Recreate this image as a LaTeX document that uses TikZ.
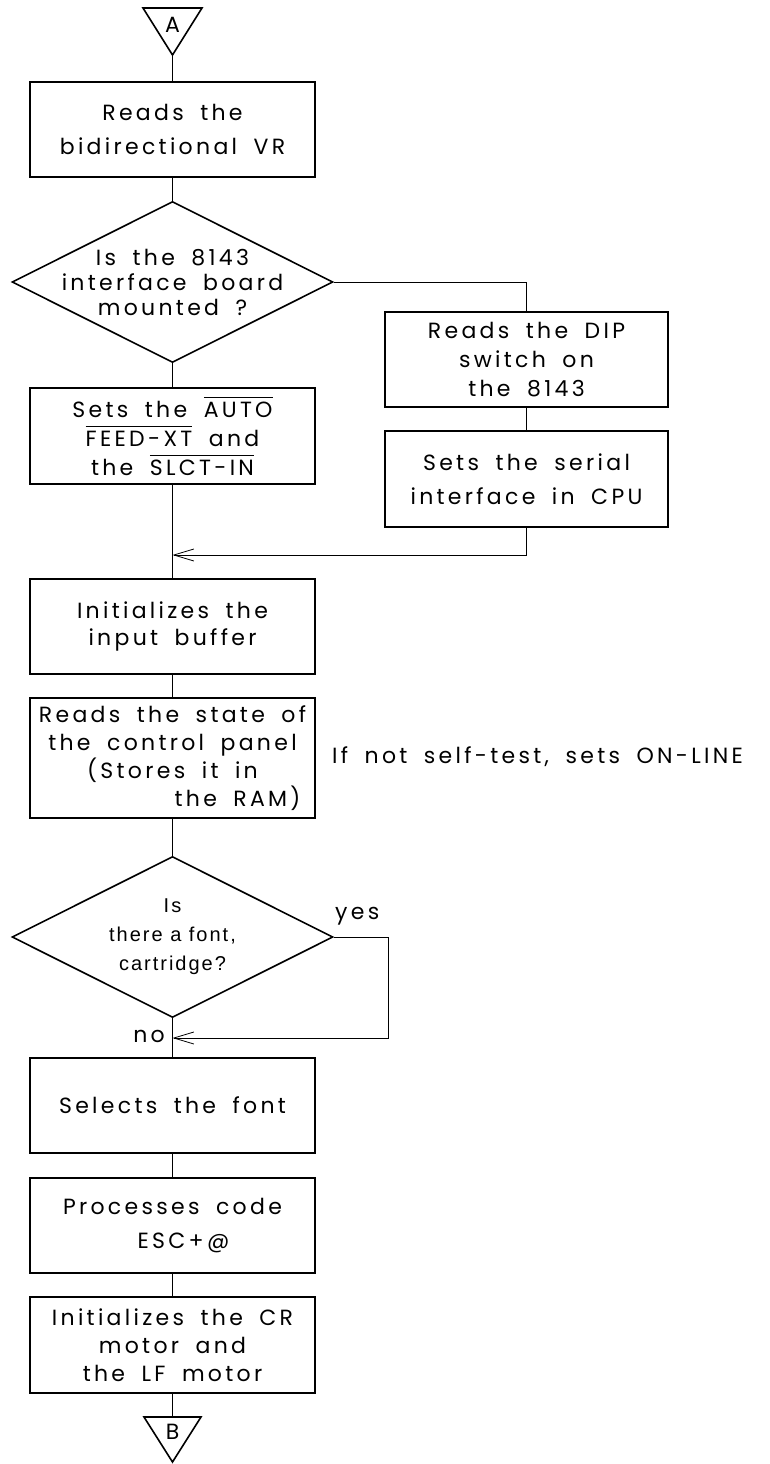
\documentclass[tikz,border=0pt]{standalone}
\usepackage{fontspec}
\usetikzlibrary{shapes.geometric,arrows.meta}
\newfontfamily\lettering[LetterSpace=15,WordSpace=1.8]{Poppins}
\newfontfamily\plainsans[LetterSpace=10]{Liberation Sans}
\newcommand\sigbar[1]{\vbox{\hrule height 1pt\kern 4pt\hbox{#1}}}
\tikzset{
  stepbox/.style={draw, line width=1.6pt, minimum width=285pt, minimum height=95pt,
    inner sep=0pt, align=center, font=\lettering\fontsize{22}{29}\selectfont},
  query/.style={diamond, aspect=2, draw, line width=1.6pt, minimum width=321pt, minimum height=161pt,
    inner sep=-40pt, align=center, font=\lettering\fontsize{22}{25}\selectfont},
  loose/.style={font=\lettering\fontsize{22}{34}\selectfont},
  flow/.style={line width=0.8pt},
  flowarr/.style={flow, -{Straight Barb[length=20pt, width=12pt, line width=0.8pt]}},
  tag/.style={inner sep=0pt, font=\lettering\fontsize{22}{24}\selectfont}
}
\begin{document}
\begin{tikzpicture}[x=1pt, y=-1pt]
    \useasboundingbox (0,0) rectangle (770,1464);
    % Connector A at the top
    \draw[line width=1.6pt, line join=miter] (143,8) -- (202,8) -- (172.5,55) -- cycle;
    \node[tag] (conA) at (172.5,25) {A};
    \coordinate (conAtip) at (172.5,55);
    % Main column
    \node[stepbox, loose] (rdvr) at (172.5,129.5) {Reads the\\bidirectional VR};
    \node[query] (mnt) at (172.5,282) {Is the 8143\\interface board\\mounted ?};
    \node[stepbox, minimum height=96pt] (auto) at (172.5,436)
        {Sets the \sigbar{AUTO}\\\sigbar{FEED-XT} and\\the \sigbar{SLCT-IN}};
    % Side branch for the 8143 board
    \node[stepbox, minimum width=283pt] (dip) at (526.5,359.5) {Reads the DIP\\switch on\\the 8143};
    \node[stepbox, loose, minimum width=283pt, minimum height=96pt] (ser) at (526.5,479)
        {Sets the serial\\interface in CPU};
    \coordinate (join1) at (172.5,555);
    \node[stepbox, font=\lettering\fontsize{22}{27}\selectfont] (buf) at (172.5,626.5)
        {Initializes the\\input buffer};
    \node[stepbox, minimum height=120pt, font=\lettering\fontsize{22}{28}\selectfont] (pnl)
        at (172.5,758)
        {Reads the state of\\the control panel\\(Stores it in\hspace*{17pt}\\\hspace*{130pt}the RAM)};
    \node[tag, anchor=west] (online) at (332,757) {If not self-test, sets ON-LINE};
    \node[query, font=\plainsans\fontsize{20}{29}\selectfont] (crt) at (172.5,937)
        {Is\\there a font,\\cartridge?};
    \coordinate (yescorner) at (388,937);
    \coordinate (join2) at (172.5,1038);
    \node[tag, anchor=south west] (yes) at (335,925) {yes};
    \node[tag, anchor=east] (no) at (165,1036) {no};
    \node[stepbox] (sel) at (172.5,1105.5) {Selects the font};
    \node[stepbox, loose] (esc) at (172.5,1225.5) {Processes code\\\hspace*{22pt}ESC+@};
    \node[stepbox, minimum height=96pt, font=\lettering\fontsize{22}{28}\selectfont] (mtr)
        at (172.5,1345) {Initializes the CR\\motor and\hspace*{20pt}\\the LF motor};
    % Connector B at the bottom
    \coordinate (conBtop) at (172.5,1417);
    \draw[line width=1.6pt, line join=miter] (144,1417) -- (201,1417) -- (172.5,1462) -- cycle;
    \node[tag] (conB) at (172.5,1432) {B};
    % Flow lines
    \draw[flow] (conAtip) -- (rdvr);
    \draw[flow] (rdvr) -- (mnt);
    \draw[flow] (mnt) -- (auto);
    \draw[flow] (mnt.east) -| (dip.north);
    \draw[flow] (dip) -- (ser);
    \draw[flow] (auto) -- (buf);
    \draw[flowarr] (ser.south) |- (join1);
    \draw[flow] (buf) -- (pnl);
    \draw[flow] (pnl) -- (crt);
    \draw[flowarr] (crt.east) -- (yescorner) |- (join2);
    \draw[flow] (crt) -- (sel);
    \draw[flow] (sel) -- (esc);
    \draw[flow] (esc) -- (mtr);
    \draw[flow] (mtr) -- (conBtop);
\end{tikzpicture}
\end{document}
